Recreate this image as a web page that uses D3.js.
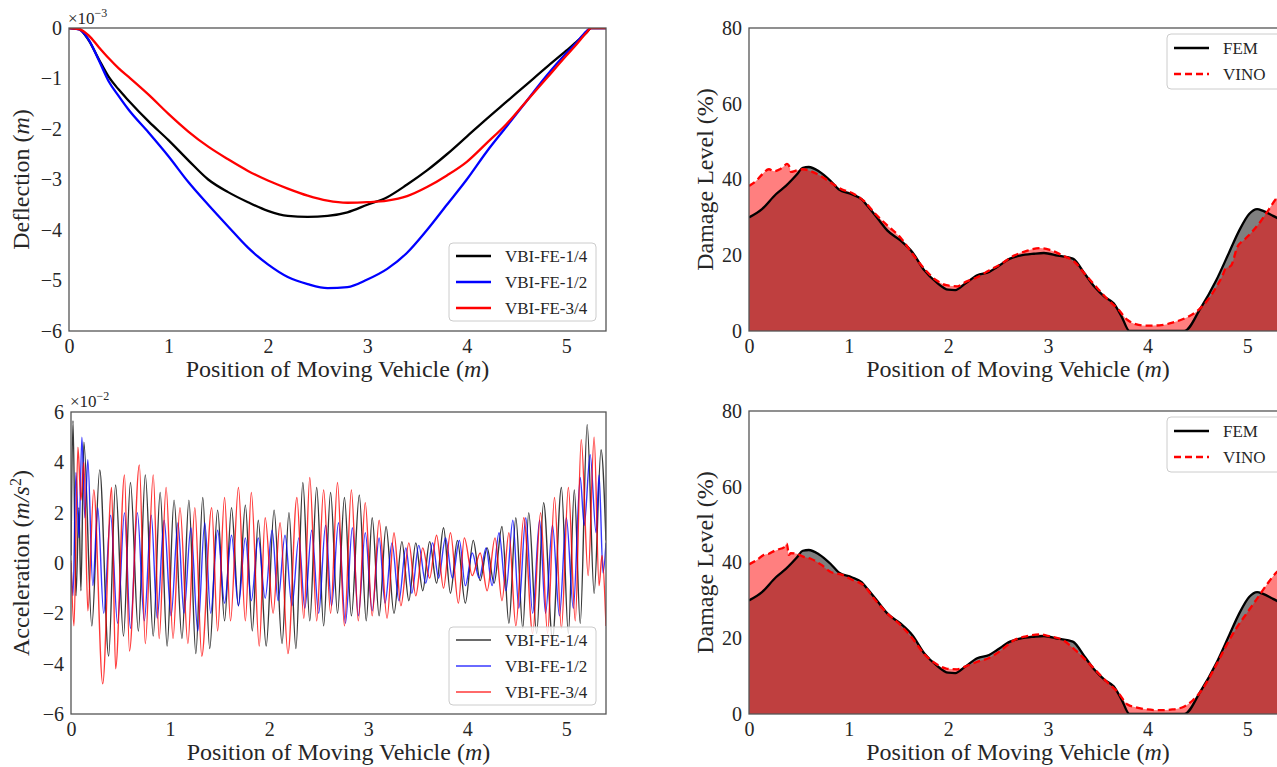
<!DOCTYPE html>
<html>
<head>
<meta charset="utf-8">
<script src="https://cdn.jsdelivr.net/npm/d3@7"></script>
<style>
  body { margin: 0; background: #fff; }
  text { font-family: "Liberation Serif", "Times New Roman", serif; fill: #262626; }
</style>
</head>
<body>
<svg id="fig" width="1277" height="767"></svg>
<script>
// ---------- shared axis settings ----------
const xDomain = [0, 5.4];
const xTicks = [0, 1, 2, 3, 4, 5];
const deflTicks = [0, -1, -2, -3, -4, -5, -6];
const accTicks = [6, 4, 2, 0, -2, -4, -6];
const dmgTicks = [0, 20, 40, 60, 80];

// ---------- deflection (x 1e-3 m) ----------
const deflX = [0, 0.1, 0.2, 0.3, 0.4, 0.5, 0.6, 0.8, 1.0, 1.2, 1.4, 1.6, 1.8, 2.0, 2.2, 2.4, 2.6, 2.8, 3.0, 3.2, 3.4, 3.6, 3.8, 4.0, 4.2, 4.4, 4.6, 4.8, 5.0, 5.1, 5.2, 5.25, 5.3, 5.4];
const deflQuarter = [0, -0.02, -0.25, -0.62, -0.97, -1.22, -1.44, -1.85, -2.22, -2.62, -3.0, -3.25, -3.45, -3.62, -3.72, -3.74, -3.72, -3.65, -3.5, -3.35, -3.1, -2.82, -2.5, -2.15, -1.8, -1.46, -1.12, -0.78, -0.45, -0.28, -0.1, 0, 0, 0];
const deflHalf = [0, -0.03, -0.24, -0.64, -1.06, -1.35, -1.62, -2.07, -2.54, -3.05, -3.5, -3.93, -4.35, -4.68, -4.93, -5.07, -5.15, -5.13, -4.98, -4.77, -4.45, -4.0, -3.5, -3.0, -2.45, -1.95, -1.45, -0.95, -0.5, -0.3, -0.07, 0, 0, 0];
const deflThreeQuarter = [0, -0.02, -0.15, -0.38, -0.6, -0.8, -0.97, -1.32, -1.7, -2.05, -2.35, -2.6, -2.83, -3.02, -3.18, -3.32, -3.42, -3.46, -3.45, -3.42, -3.33, -3.15, -2.92, -2.65, -2.28, -1.9, -1.45, -1.0, -0.55, -0.33, -0.1, 0, 0, 0];

// ---------- acceleration (x 1e-2 m/s^2), turning points [x, value] ----------
const accQuarter = [[0,0.3],[0.02,5.65],[0.05,-1.3],[0.08,2.2],[0.1,-1.1],[0.13,4.8],[0.21,-2.5],[0.29,3.7],[0.38,-3.7],[0.45,3.1],[0.53,-2.9],[0.6,3.2],[0.68,-2.7],[0.75,3.5],[0.83,-2.9],[0.9,2.8],[0.97,-3.3],[1.04,2.5],[1.12,-3.0],[1.19,2.5],[1.26,-3.6],[1.33,2.6],[1.4,-3.4],[1.48,2.1],[1.55,-2.3],[1.62,2.2],[1.69,-1.7],[1.76,2.3],[1.83,-2.7],[1.89,1.7],[1.97,-3.3],[2.05,2.1],[2.13,-3.2],[2.2,2.0],[2.27,-3.4],[2.34,3.2],[2.41,-2.3],[2.48,3.0],[2.55,-2.5],[2.62,2.8],[2.69,-2.0],[2.76,2.6],[2.83,-2.1],[2.91,2.7],[2.98,-2.3],[3.04,1.8],[3.11,-2.1],[3.18,1.45],[3.26,-2.0],[3.34,0.85],[3.41,-1.5],[3.48,0.8],[3.55,-1.1],[3.62,0.85],[3.69,-0.8],[3.76,1.4],[3.83,-1.2],[3.9,0.9],[3.98,-1.6],[4.06,0.9],[4.13,-0.7],[4.2,0.6],[4.27,-0.8],[4.35,1.45],[4.42,-2.4],[4.49,1.8],[4.56,-2.6],[4.62,2.0],[4.7,-2.8],[4.77,2.4],[4.86,-3.0],[4.95,3.0],[5.02,-2.8],[5.08,2.9],[5.14,-2.4],[5.21,5.5],[5.28,-1.2],[5.35,4.5],[5.4,0.9]];
const accHalf = [[0,0],[0.02,-1.3],[0.05,3.6],[0.08,1.0],[0.11,5.0],[0.14,1.8],[0.17,4.1],[0.22,-0.9],[0.27,2.2],[0.33,-2.0],[0.4,1.9],[0.47,-2.4],[0.54,2.0],[0.6,-2.6],[0.67,2.0],[0.74,-2.3],[0.81,1.9],[0.87,-2.2],[0.94,1.7],[1.01,-2.1],[1.08,1.6],[1.14,-2.0],[1.21,1.4],[1.28,-2.7],[1.35,1.6],[1.41,-2.0],[1.48,1.3],[1.55,-1.6],[1.62,1.1],[1.69,-1.7],[1.76,1.0],[1.82,-1.5],[1.89,1.0],[1.96,-1.4],[2.03,1.3],[2.09,-1.5],[2.16,1.1],[2.23,-1.7],[2.3,1.0],[2.36,-1.8],[2.43,1.3],[2.5,-2.0],[2.57,1.5],[2.63,-1.7],[2.7,1.6],[2.77,-2.4],[2.84,1.4],[2.9,-2.1],[2.97,1.2],[3.04,-1.9],[3.11,1.0],[3.17,-1.6],[3.24,0.8],[3.31,-1.5],[3.38,0.6],[3.44,-1.2],[3.51,0.7],[3.58,-0.8],[3.65,0.8],[3.71,-0.6],[3.78,1.0],[3.85,-0.6],[3.92,0.9],[3.98,-0.9],[4.05,0.4],[4.12,-0.6],[4.19,0.6],[4.25,-0.9],[4.32,1.2],[4.39,-1.1],[4.46,1.7],[4.52,-1.8],[4.59,1.8],[4.66,-2.0],[4.73,1.7],[4.79,-2.0],[4.86,1.5],[4.93,-2.1],[5.0,1.8],[5.07,-1.8],[5.14,3.4],[5.18,1.5],[5.24,4.3],[5.3,1.2],[5.33,3.5],[5.37,-0.4],[5.4,0.8]];
const accThreeQuarter = [[0,0.1],[0.03,-2.5],[0.07,4.6],[0.1,2.5],[0.13,4.0],[0.17,-1.9],[0.23,2.9],[0.32,-4.8],[0.41,3.0],[0.45,-4.2],[0.54,3.5],[0.59,-3.5],[0.69,3.9],[0.75,-3.2],[0.83,3.5],[0.89,-3.0],[0.96,3.0],[1.03,-3.0],[1.1,2.2],[1.18,-3.2],[1.25,2.2],[1.32,-3.7],[1.42,2.2],[1.48,-2.7],[1.55,2.6],[1.61,-2.3],[1.69,3.0],[1.76,-2.3],[1.82,2.8],[1.9,-3.3],[1.96,1.8],[2.04,-2.0],[2.11,1.6],[2.19,-3.6],[2.28,2.6],[2.35,-2.2],[2.41,3.4],[2.48,-2.3],[2.55,2.9],[2.62,-2.0],[2.69,3.2],[2.76,-2.5],[2.83,2.9],[2.9,-2.3],[2.97,2.4],[3.04,-2.1],[3.11,1.7],[3.19,-2.2],[3.26,1.2],[3.33,-1.7],[3.41,0.8],[3.48,-1.3],[3.55,0.6],[3.62,-0.6],[3.69,1.1],[3.76,-1.0],[3.83,1.2],[3.91,-1.6],[3.97,1.0],[4.05,-0.5],[4.13,0.4],[4.2,-1.1],[4.28,1.0],[4.35,-1.5],[4.42,1.2],[4.49,-2.5],[4.57,1.8],[4.66,-2.8],[4.74,2.0],[4.81,-2.8],[4.88,2.6],[4.95,-2.6],[5.02,3.0],[5.09,-2.3],[5.15,4.9],[5.22,-0.5],[5.28,5.0],[5.33,-0.9],[5.36,0.3],[5.4,-2.5]];

// ---------- damage level (%) [x, value] ----------
const femDamage = [[0,30],[0.13,32.2],[0.27,36.1],[0.37,38.3],[0.48,41.3],[0.54,43.1],[0.6,43.3],[0.7,42.2],[0.82,39.6],[0.9,37.4],[1.03,36.1],[1.13,34.8],[1.19,33],[1.31,29.1],[1.39,26.5],[1.52,23.9],[1.64,20.8],[1.76,16],[1.88,12.9],[2.0,10.9],[2.07,10.8],[2.17,12.5],[2.29,14.7],[2.41,15.6],[2.49,16.9],[2.62,19.1],[2.72,19.9],[2.86,20.4],[2.96,20.6],[3.1,19.9],[3.25,19.1],[3.37,15.1],[3.47,11.6],[3.57,9.0],[3.66,7.3],[3.74,3.8],[3.82,0],[4.37,0],[4.53,5.9],[4.69,13.4],[4.82,20.8],[4.92,26.5],[5.02,30.9],[5.1,32.2],[5.16,31.7],[5.26,30.4],[5.4,28.5]];
const vinoDamageTop = [[0,38.3],[0.07,39.6],[0.13,41.3],[0.2,42.7],[0.25,42.2],[0.31,42.7],[0.35,43.5],[0.38,44.1],[0.41,43.1],[0.42,42.0],[0.48,42.4],[0.54,42.7],[0.62,42.2],[0.72,40.9],[0.82,39.2],[0.93,37.4],[1.03,36.5],[1.15,34.4],[1.27,30.9],[1.39,27.8],[1.52,24.7],[1.64,20.4],[1.76,16.4],[1.88,13.4],[1.98,12.1],[2.09,11.8],[2.17,12.9],[2.29,14.2],[2.41,16],[2.53,17.7],[2.66,19.9],[2.78,21.1],[2.92,21.9],[3.02,21.4],[3.15,19.9],[3.27,18.2],[3.37,15.1],[3.47,12.1],[3.59,8.6],[3.7,5.9],[3.8,2.9],[3.88,1.8],[4.0,1.4],[4.12,1.5],[4.25,2.2],[4.37,3.3],[4.49,5.1],[4.59,7.7],[4.69,11.6],[4.76,15.1],[4.78,16.4],[4.84,17.3],[4.9,22.1],[4.98,24.3],[5.06,26.5],[5.14,29.1],[5.22,32.2],[5.3,35.2],[5.4,37]];
const vinoDamageBottom = [[0,39.5],[0.07,40.5],[0.15,42],[0.2,42.3],[0.25,43],[0.3,43.5],[0.35,44],[0.38,45],[0.4,42],[0.42,42.5],[0.48,42.3],[0.55,41.5],[0.62,41],[0.72,39.5],[0.82,37.5],[0.93,36.8],[1.03,35.5],[1.15,34],[1.27,30],[1.39,26.5],[1.52,23.5],[1.64,20],[1.76,15.8],[1.88,13.2],[1.98,12],[2.09,11.8],[2.17,12.5],[2.29,13.8],[2.41,14.8],[2.53,16.8],[2.66,19.5],[2.78,20.5],[2.92,21],[3.02,20.5],[3.15,19.5],[3.27,17],[3.37,14.5],[3.47,11.8],[3.59,8.5],[3.7,5.8],[3.8,2.5],[3.88,1.8],[4.0,1.2],[4.12,1.0],[4.25,1.2],[4.37,2],[4.45,3.5],[4.55,6.5],[4.65,11],[4.75,16],[4.82,19.5],[4.9,23],[4.98,26],[5.06,29],[5.14,32],[5.22,35],[5.3,37.5],[5.4,39]];

const deflSeries = [
  { name: "VBI-FE-1/4", color: "#000000", values: deflQuarter },
  { name: "VBI-FE-1/2", color: "#0000ff", values: deflHalf },
  { name: "VBI-FE-3/4", color: "#ff0000", values: deflThreeQuarter }
];
const accSeries = [
  { name: "VBI-FE-1/4", color: "#000000", values: accQuarter },
  { name: "VBI-FE-1/2", color: "#0000ff", values: accHalf },
  { name: "VBI-FE-3/4", color: "#ff0000", values: accThreeQuarter }
];

// ---------- layout ----------
const svg = d3.select("#fig");
const frameColor = "#555";
const tickFont = "20px";
const titleFont = "24px";
const boxes = {
  defl:   { l: 69,  r: 606,  t: 28,  b: 331 },
  acc:    { l: 71,  r: 606,  t: 412, b: 714 },
  dmgTop: { l: 749, r: 1287, t: 28,  b: 331 },
  dmgBot: { l: 749, r: 1287, t: 411, b: 714 }
};

let clipCount = 0;
function makePanel(box, yDomain, yTicks) {
  const x = d3.scaleLinear().domain(xDomain).range([box.l, box.r]);
  const y = d3.scaleLinear().domain(yDomain).range([box.b, box.t]);
  const g = svg.append("g");
  const id = "clip" + (clipCount++);
  g.append("clipPath").attr("id", id).append("rect")
    .attr("x", box.l).attr("y", box.t).attr("width", box.r - box.l).attr("height", box.b - box.t);
  const plot = g.append("g").attr("clip-path", `url(#${id})`);

  const ya = g.append("g").attr("transform", `translate(${box.l},0)`)
    .call(d3.axisLeft(y).tickValues(yTicks).tickSize(0).tickPadding(7).tickFormat(d3.format("d")));
  ya.select(".domain").remove();
  ya.selectAll("text").style("font-size", tickFont).style("font-family", '"Liberation Serif", serif').attr("fill", "#262626");

  const xa = g.append("g").attr("transform", `translate(0,${box.b})`)
    .call(d3.axisBottom(x).tickValues(xTicks).tickSize(0).tickPadding(8).tickFormat(d3.format("d")));
  xa.select(".domain").remove();
  xa.selectAll("text").style("font-size", tickFont).style("font-family", '"Liberation Serif", serif').attr("fill", "#262626");

  // x-axis title
  const xt = g.append("text")
    .attr("x", (box.l + box.r) / 2).attr("y", box.b + 46)
    .attr("text-anchor", "middle").style("font-size", titleFont);
  xt.append("tspan").text("Position of Moving Vehicle (");
  xt.append("tspan").style("font-style", "italic").text("m");
  xt.append("tspan").text(")");

  return { x, y, g, plot, box };
}

function drawFrame(p) {
  p.g.append("rect")
    .attr("x", p.box.l).attr("y", p.box.t)
    .attr("width", p.box.r - p.box.l).attr("height", p.box.b - p.box.t)
    .attr("fill", "none").attr("stroke", frameColor).attr("stroke-width", 1.3);
}

function yTitle(x, yc, parts) {
  const t = svg.append("text")
    .attr("transform", `translate(${x},${yc}) rotate(-90)`)
    .attr("text-anchor", "middle").style("font-size", titleFont);
  parts.forEach(p => {
    const s = t.append("tspan").text(p.t);
    if (p.i) s.style("font-style", "italic");
    if (p.sup) s.attr("baseline-shift", "super").style("font-size", "16px");
  });
}

function offsetText(x, y, exp) {
  const t = svg.append("text").attr("x", x).attr("y", y).style("font-size", "17px");
  t.append("tspan").text("\u00d710");
  t.append("tspan").attr("dy", -7).style("font-size", "12px").text(exp);
}

function legend(box, entries, opts) {
  const g = svg.append("g");
  g.append("rect")
    .attr("x", box.x).attr("y", box.y).attr("width", box.w).attr("height", box.h)
    .attr("rx", 4).attr("fill", "#fff").attr("fill-opacity", 0.8)
    .attr("stroke", "#cccccc").attr("stroke-width", 1);
  entries.forEach((e, i) => {
    const cy = box.y + opts.first + i * opts.step;
    g.append("line")
      .attr("x1", opts.x0).attr("x2", opts.x1).attr("y1", cy).attr("y2", cy)
      .attr("stroke", e.color).attr("stroke-width", e.width)
      .attr("stroke-opacity", e.opacity == null ? 1 : e.opacity)
      .attr("stroke-dasharray", e.dash || null);
    g.append("text").attr("x", opts.tx).attr("y", cy).attr("dy", "0.35em")
      .style("font-size", "17px").text(e.name);
  });
}

// ---------- panel 1: deflection ----------
{
  const p = makePanel(boxes.defl, [-6, 0], deflTicks);
  const line = d3.line().x(d => p.x(d[0])).y(d => p.y(d[1])).curve(d3.curveMonotoneX);
  deflSeries.forEach(s => {
    p.plot.append("path")
      .datum(deflX.map((xv, i) => [xv, s.values[i]]))
      .attr("d", line).attr("fill", "none")
      .attr("stroke", s.color).attr("stroke-width", 2.3);
  });
  drawFrame(p);
  legend({ x: 449, y: 243, w: 147, h: 78 },
    deflSeries.map(s => ({ name: s.name, color: s.color, width: 2.3 })),
    { first: 13, step: 26, x0: 456, x1: 491, tx: 505 });
  yTitle(29, (boxes.defl.t + boxes.defl.b) / 2, [{ t: "Deflection (" }, { t: "m", i: true }, { t: ")" }]);
  offsetText(68, 24, "\u22123");
}

// ---------- panel 2: acceleration ----------
{
  const p = makePanel(boxes.acc, [-6, 6], accTicks);
  const line = d3.line().x(d => p.x(d[0])).y(d => p.y(d[1])).curve(d3.curveMonotoneX);
  accSeries.forEach(s => {
    p.plot.append("path")
      .datum(s.values)
      .attr("d", line).attr("fill", "none")
      .attr("stroke", s.color).attr("stroke-width", 1.4).attr("stroke-opacity", 0.78);
  });
  drawFrame(p);
  legend({ x: 449, y: 627, w: 147, h: 78 },
    accSeries.map(s => ({ name: s.name, color: s.color, width: 1.4, opacity: 0.78 })),
    { first: 13, step: 26, x0: 456, x1: 491, tx: 505 });
  yTitle(29, (boxes.acc.t + boxes.acc.b) / 2, [{ t: "Acceleration (" }, { t: "m/s", i: true }, { t: "2", sup: true }, { t: ")" }]);
  offsetText(70, 407, "\u22122");
}

// ---------- panels 3 & 4: damage level ----------
function damagePanel(box, fem, vino) {
  const p = makePanel(box, [0, 80], dmgTicks);
  const area = d3.area().x(d => p.x(d[0])).y0(p.y(0)).y1(d => p.y(d[1])).curve(d3.curveMonotoneX);
  const line = d3.line().x(d => p.x(d[0])).y(d => p.y(d[1])).curve(d3.curveMonotoneX);
  p.plot.append("path").datum(fem).attr("d", area).attr("fill", "#000").attr("fill-opacity", 0.5);
  p.plot.append("path").datum(vino).attr("d", area).attr("fill", "#ff0000").attr("fill-opacity", 0.5);
  p.plot.append("path").datum(fem).attr("d", line).attr("fill", "none")
    .attr("stroke", "#000").attr("stroke-width", 2.3);
  p.plot.append("path").datum(vino).attr("d", line).attr("fill", "none")
    .attr("stroke", "#ff0000").attr("stroke-width", 2.3).attr("stroke-dasharray", "7,4");
  drawFrame(p);
  legend({ x: 1167, y: box.t + 6, w: 118, h: 55 },
    [{ name: "FEM", color: "#000", width: 2.3 }, { name: "VINO", color: "#ff0000", width: 2.3, dash: "7,4" }],
    { first: 14, step: 26, x0: 1174, x1: 1209, tx: 1223 });
  yTitle(713, (box.t + box.b) / 2, [{ t: "Damage Level (%)" }]);
}
damagePanel(boxes.dmgTop, femDamage, vinoDamageTop);
damagePanel(boxes.dmgBot, femDamage, vinoDamageBottom);
</script>
</body>
</html>
